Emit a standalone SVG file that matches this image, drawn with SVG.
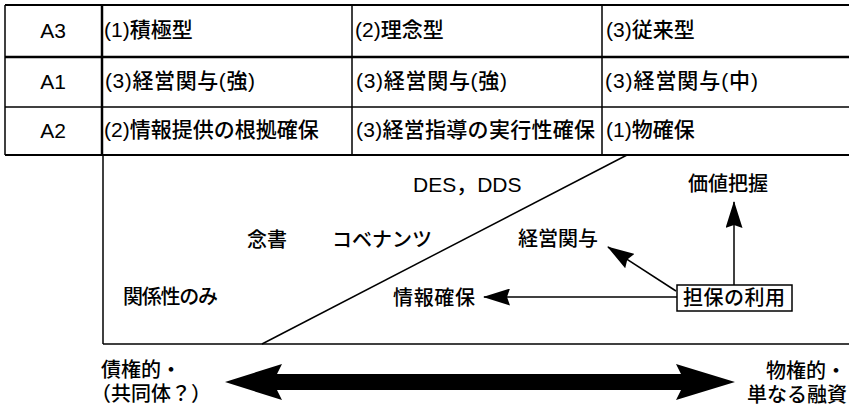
<svg xmlns="http://www.w3.org/2000/svg" width="849" height="406" viewBox="0 0 849 406">
<style>
.t{font-family:"Liberation Sans","Noto Sans CJK JP",sans-serif;font-size:21px;font-weight:500;fill:#000}
.m{font-family:"Liberation Sans","Noto Sans CJK JP",sans-serif;font-size:20px;font-weight:500;fill:#000}
.ln{stroke:#000;fill:none}
.c{stroke:#000;stroke-width:1.5;fill:none}
</style>
<defs>
<marker id="ah" markerUnits="userSpaceOnUse" markerWidth="27" markerHeight="17" viewBox="0 0 27 17" refX="26" refY="8.5" orient="auto">
<path d="M0,0 L27,8.5 L0,17 L3,8.5 z" fill="#000"/>
</marker>
</defs>
<rect width="849" height="406" fill="#fff"/>
<g id="table">
<line class="ln" x1="5" y1="5" x2="849" y2="5" stroke-width="2"/>
<line class="ln" x1="5" y1="57" x2="849" y2="57" stroke-width="2.5"/>
<line class="ln" x1="5" y1="107" x2="849" y2="107" stroke-width="1.5"/>
<line class="ln" x1="5" y1="155" x2="849" y2="155" stroke-width="2"/>
<line class="ln" x1="5" y1="5" x2="5" y2="155" stroke-width="1.5"/>
<line class="ln" x1="102" y1="5" x2="102" y2="155" stroke-width="2.5"/>
<line class="ln" x1="352" y1="5" x2="352" y2="155" stroke-width="1.5"/>
<line class="ln" x1="602" y1="5" x2="602" y2="155" stroke-width="1.5"/>
</g>
<g id="row-a3">
<text class="t" x="53" y="38" text-anchor="middle">A3</text>
<text class="t" x="104" y="37">(1)積極型</text>
<text class="t" x="355" y="37">(2)理念型</text>
<text class="t" x="606" y="37">(3)従来型</text>
</g>
<g id="row-a1">
<text class="t" x="53" y="89" text-anchor="middle">A1</text>
<text class="t" x="105" y="88" textLength="150" lengthAdjust="spacing">(3)経営関与(強)</text>
<text class="t" x="356" y="88" textLength="151" lengthAdjust="spacing">(3)経営関与(強)</text>
<text class="t" x="605" y="88" textLength="153" lengthAdjust="spacing">(3)経営関与(中)</text>
</g>
<g id="row-a2">
<text class="t" x="53" y="138" text-anchor="middle">A2</text>
<text class="t" x="104" y="137">(2)情報提供の根拠確保</text>
<text class="t" x="356" y="137" textLength="239" lengthAdjust="spacing">(3)経営指導の実行性確保</text>
<text class="t" x="606" y="137">(1)物確保</text>
</g>
<g id="field">
<line class="ln" x1="103" y1="155" x2="103" y2="344" stroke-width="1.5"/>
<line class="ln" x1="103" y1="344" x2="849" y2="344" stroke-width="1.5"/>
<line class="ln" x1="262" y1="344" x2="627" y2="155" stroke-width="1.5"/>
</g>
<g id="label-des"><text class="t" x="413" y="192">DES，DDS</text></g>
<g id="label-nensho"><text class="m" x="247" y="247">念書</text></g>
<g id="label-covenants"><text class="m" x="332" y="247">コベナンツ</text></g>
<g id="label-relation"><text class="m" x="123" y="304" textLength="95" lengthAdjust="spacing">関係性のみ</text></g>
<g id="label-info"><text class="m" x="393" y="305" textLength="82" lengthAdjust="spacing">情報確保</text></g>
<g id="label-mgmt"><text class="m" x="518" y="246" textLength="80" lengthAdjust="spacing">経営関与</text></g>
<g id="label-value"><text class="m" x="688" y="191" textLength="80" lengthAdjust="spacing">価値把握</text></g>
<g id="collateral">
<rect x="677" y="285" width="115" height="26" fill="#fff" stroke="#000" stroke-width="1.5"/>
<text class="m" x="683" y="305" textLength="102" lengthAdjust="spacing">担保の利用</text>
</g>
<g id="connectors">
<line class="c" x1="677" y1="297" x2="484" y2="297" marker-end="url(#ah)"/>
<line class="c" x1="676" y1="291" x2="608" y2="247" marker-end="url(#ah)"/>
<line class="c" x1="734" y1="285" x2="734" y2="202" marker-end="url(#ah)"/>
<path d="M225,382 L282,364 L277,374 L681,374 L676,364 L735,382 L676,400 L681,390 L277,390 L282,400 Z" fill="#000"/>
</g>
<g id="label-left">
<text class="m" x="101" y="377">債権的・</text>
<text class="m" x="91" y="401">（共同体？）</text>
</g>
<g id="label-right">
<text class="m" x="766" y="378">物権的・</text>
<text class="m" x="747" y="402">単なる融資</text>
</g>
</svg>
